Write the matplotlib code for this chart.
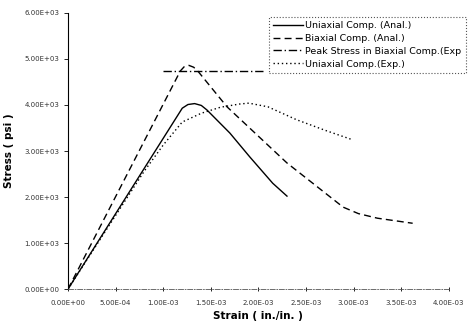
import matplotlib

matplotlib.use("Agg")
import matplotlib.pyplot as plt
from matplotlib.ticker import FuncFormatter

# data
uni_anal_strain = [0.0, 1.20e-3, 1.26e-3, 1.33e-3, 1.40e-3, 1.46e-3, 1.70e-3, 1.91e-3, 2.15e-3, 2.30e-3]
uni_anal_stress = [0.0, 3930, 4010, 4030, 3990, 3890, 3390, 2870, 2300, 2020]

bi_anal_strain = [0.0, 1.18e-3, 1.22e-3, 1.27e-3, 1.32e-3, 1.37e-3, 1.67e-3, 2.30e-3, 2.89e-3, 3.05e-3, 3.25e-3, 3.62e-3]
bi_anal_stress = [0.0, 4740, 4830, 4860, 4820, 4720, 3960, 2740, 1780, 1640, 1540, 1430]

peak_exp_strain = [1.0e-3, 2.05e-3]
peak_exp_stress = [4740, 4740]

uni_exp_strain = [0.0, 2e-4, 5e-4, 8e-4, 1.0e-3, 1.2e-3, 1.4e-3, 1.6e-3, 1.8e-3, 1.9e-3, 2.1e-3, 2.4e-3, 2.7e-3, 2.98e-3]
uni_exp_stress = [0.0, 640, 1600, 2560, 3130, 3630, 3820, 3950, 4020, 4040, 3960, 3680, 3450, 3250]

x_ticks = [0, 5e-4, 1e-3, 1.5e-3, 2e-3, 2.5e-3, 3e-3, 3.5e-3, 4e-3]
y_ticks = [0, 1000, 2000, 3000, 4000, 5000, 6000]

fig = plt.figure(figsize=(4.69, 3.23), dpi=100)
ax = fig.add_axes([0.145, 0.105, 0.812, 0.855])

ax.plot(uni_anal_strain, uni_anal_stress, color="black", lw=1.0, ls="-", label="Uniaxial Comp. (Anal.)")
ax.plot(bi_anal_strain, bi_anal_stress, color="black", lw=1.0, ls=(0, (5, 3)), label="Biaxial Comp. (Anal.)")
ax.plot(peak_exp_strain, peak_exp_stress, color="black", lw=1.0, ls=(0, (6, 2, 1, 2)),
        label="Peak Stress in Biaxial Comp.(Exp")
ax.plot(uni_exp_strain, uni_exp_stress, color="black", lw=1.0, ls=(0, (1, 2)), label="Uniaxial Comp.(Exp.)")

ax.set_xlim(0, 4e-3)
ax.set_ylim(0, 6000)
ax.set_xticks(x_ticks)
ax.set_yticks(y_ticks)
ax.xaxis.set_major_formatter(FuncFormatter(lambda v, p: "%.2E" % v))
ax.yaxis.set_major_formatter(FuncFormatter(lambda v, p: "%.2E" % v))
ax.tick_params(axis="both", labelsize=5, labelcolor="#333333", length=3, width=0.6)
ax.tick_params(axis="x", direction="inout", pad=6)
ax.tick_params(axis="y", direction="out", pad=3)

for s in ["top", "right"]:
    ax.spines[s].set_visible(False)
ax.spines["left"].set_linewidth(0.8)
ax.spines["bottom"].set_linewidth(0.6)
ax.spines["bottom"].set_linestyle((0, (6, 2, 1, 2)))
ax.spines["bottom"].set_color("#555555")

ax.set_xlabel("Strain ( in./in. )", fontsize=7.5, fontweight="bold", labelpad=4)
ax.set_ylabel("Stress ( psi )", fontsize=7.5, fontweight="bold", labelpad=8)

leg = ax.legend(loc="upper left", bbox_to_anchor=(0.563, 0.962), bbox_transform=fig.transFigure,
                fontsize=6.8, handlelength=3.2, handletextpad=0.2, labelspacing=0.4,
                borderpad=0.45, fancybox=False, framealpha=1.0)
leg.get_frame().set_edgecolor("#555555")
leg.get_frame().set_linestyle(":")
leg.get_frame().set_linewidth(0.8)

fig.savefig("out.png", dpi=100)
plt.close(fig)
